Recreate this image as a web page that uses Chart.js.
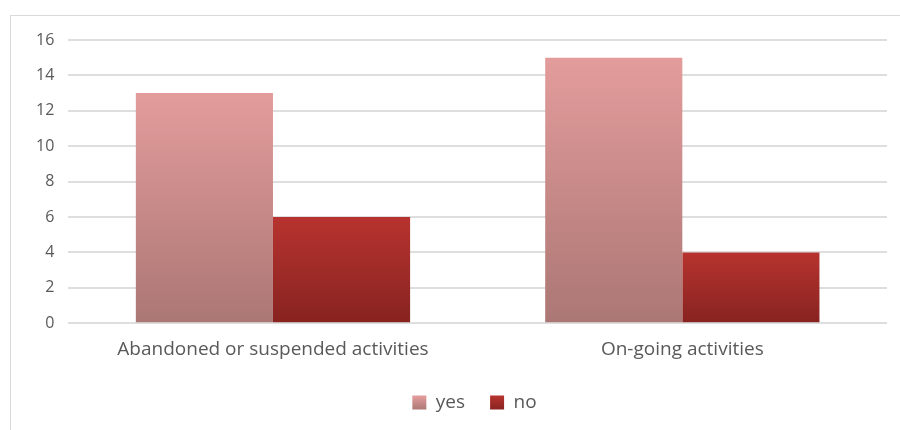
<!DOCTYPE html>
<html>
<head>
<meta charset="utf-8">
<script src="https://cdn.jsdelivr.net/npm/chart.js@4"></script>
<style>
  body { margin: 0; background: #fff; }
  #wrap { position: relative; width: 900px; height: 430px; }
  #frame { position: absolute; left: 10px; top: 15px; width: 900px; height: 430px;
           border: 1px solid #d9d9d9; box-sizing: border-box; }
  canvas { position: absolute; left: 0; top: 0; }
</style>
</head>
<body>
<div id="wrap">
  <div id="frame"></div>
  <canvas id="chart" width="900" height="430"></canvas>
</div>
<script>
const categories = ["Abandoned or suspended activities", "On-going activities"];
const yesValues = [13, 15];
const noValues = [6, 4];
const seriesNames = ["yes", "no"];

// top / bottom colours of each series' gradient
const yesColors = ["#e39c9c", "#ab7774"];
const noColors = ["#b7332f", "#872320"];
const seriesColors = [yesColors, noColors];

function makeGradient(ctx, colors, top, bottom) {
  const g = ctx.createLinearGradient(0, top, 0, bottom);
  g.addColorStop(0, colors[0]);
  g.addColorStop(1, colors[1]);
  return g;
}

// each bar gets its own vertical gradient, like the office chart
function barGradient(colors) {
  return (context) => {
    const chart = context.chart;
    if (context.type !== "data" || !chart.scales.y) return colors[0];
    const top = chart.scales.y.getPixelForValue(context.parsed.y);
    const bottom = chart.scales.y.getPixelForValue(0);
    if (!isFinite(top) || !isFinite(bottom) || top === bottom) return colors[0];
    return makeGradient(chart.ctx, colors, top, bottom);
  };
}

// the legend in the original sits a bit right of centre
const legendShift = {
  id: "legendShift",
  afterLayout(chart) {
    if (chart.legend) {
      chart.legend.left += 20;
      chart.legend.right += 20;
    }
  },
};

const ctx = document.getElementById("chart").getContext("2d");
new Chart(ctx, {
  type: "bar",
  data: {
    labels: categories,
    datasets: [
      { label: seriesNames[0], data: yesValues, backgroundColor: barGradient(yesColors), borderWidth: 0 },
      { label: seriesNames[1], data: noValues, backgroundColor: barGradient(noColors), borderWidth: 0 },
    ],
  },
  options: {
    responsive: false,
    animation: false,
    layout: { padding: { left: 22, right: 13, top: 40, bottom: 8 } },
    datasets: {
      bar: { categoryPercentage: 0.67, barPercentage: 1.0 },
    },
    scales: {
      y: {
        min: 0,
        max: 16,
        ticks: {
          stepSize: 2,
          color: "#595959",
          padding: 14,
          font: { family: "'Open Sans', sans-serif", size: 16 },
        },
        grid: { color: "#dedede", lineWidth: 2, drawTicks: false },
        border: { display: false },
      },
      x: {
        ticks: {
          color: "#595959",
          padding: 7,
          font: { family: "'Open Sans', sans-serif", size: 19 },
        },
        grid: { display: false },
        border: { display: false },
      },
    },
    plugins: {
      legend: {
        position: "bottom",
        labels: {
          boxWidth: 14,
          boxHeight: 14,
          padding: 25,
          color: "#595959",
          font: { family: "'Open Sans', sans-serif", size: 19 },
          generateLabels(chart) {
            const items = Chart.defaults.plugins.legend.labels.generateLabels(chart);
            items.forEach((item, i) => {
              item.fillStyle = makeGradient(chart.ctx, seriesColors[i], 396, 410);
              item.lineWidth = 0;
              item.strokeStyle = "rgba(0,0,0,0)";
            });
            return items;
          },
        },
      },
      tooltip: { enabled: false },
    },
  },
  plugins: [legendShift],
});
</script>
</body>
</html>
